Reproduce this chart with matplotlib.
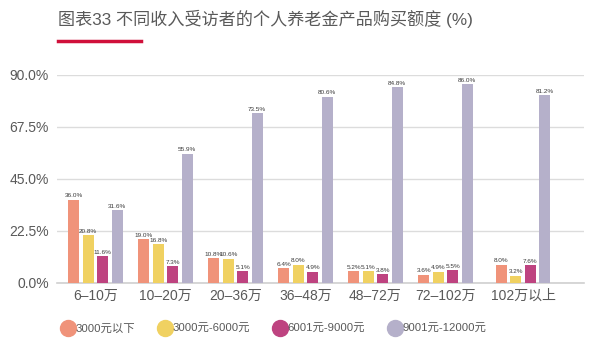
import numpy as np
import matplotlib.pyplot as plt
from matplotlib.lines import Line2D

plt.rcParams['font.family'] = ['Liberation Sans', 'Noto Sans CJK SC', 'DejaVu Sans']

# data
groups = ['6–10万', '10–20万', '20–36万', '36–48万', '48–72万', '72–102万', '102万以上']
series = ['3000元以下', '3000元-6000元', '6001元-9000元', '9001元-12000元']
below_3000 = [36.0, 19.0, 10.8, 6.4, 5.2, 3.6, 8.0]
from_3000 = [20.8, 16.8, 10.6, 8.0, 5.1, 4.9, 3.2]
from_6001 = [11.6, 7.3, 5.1, 4.9, 3.8, 5.5, 7.6]
from_9001 = [31.6, 55.9, 73.5, 80.6, 84.8, 86.0, 81.2]
yticks = [0, 22.5, 45, 67.5, 90]

colors = ['#F0937A', '#F0D161', '#BE4380', '#B5B0CA']
values = [below_3000, from_3000, from_6001, from_9001]
text_col = '#595959'

fig = plt.figure(figsize=(5.99, 3.59), dpi=100)
ax = fig.add_axes([57 / 599, 1 - 283 / 359, (584 - 57) / 599, 208 / 359])

x = np.arange(len(groups), dtype=float)
x[-1] += 0.11  # last group sits a little further right in the original
pitch = 0.207
width = 0.157
for i, (vals, c) in enumerate(zip(values, colors)):
    pos = x + (i - 1.5) * pitch
    bars = ax.bar(pos, vals, width=width, color=c, zorder=3)
    for b, v in zip(bars, vals):
        ax.text(b.get_x() + b.get_width() / 2, v + 0.6, f'{v:.1f}%',
                ha='center', va='bottom', fontsize=4.6, color='#3a3a3a',
                zorder=4)

ax.set_xlim(-0.55, 6.98)
ax.set_ylim(0, 90)
ax.set_yticks(yticks)
ax.set_yticklabels([f'{t:.1f}%' for t in yticks], fontsize=10, color=text_col)
ax.set_xticks(x)
ax.set_xticklabels(groups, fontsize=10, color=text_col)
ax.tick_params(axis='both', length=0)
ax.tick_params(axis='y', pad=6)
ax.tick_params(axis='x', pad=4)
ax.grid(axis='y', color='#dcdcdc', linewidth=1, zorder=0)
for s in ['top', 'right', 'left']:
    ax.spines[s].set_visible(False)
ax.spines['bottom'].set_color('#d0d0d0')
ax.spines['bottom'].set_linewidth(1.2)

# title and red underline
fig.text(58 / 599, 1 - 19 / 359, '图表33 不同收入受访者的个人养老金产品购买额度 (%)',
         fontsize=12.3, color=text_col, va='center', ha='left')
fig.add_artist(Line2D([58 / 599, 141 / 599], [1 - 41 / 359, 1 - 41 / 359],
                      color='#D0103A', linewidth=2.5))

handles = [Line2D([], [], marker='o', linestyle='', markersize=11.5, color=c)
           for c in colors]
fig.legend(handles, series, loc='center left', ncol=4, frameon=False,
           bbox_to_anchor=(55 / 599, 1 - 329 / 359), borderpad=0,
           fontsize=8.2, labelcolor=text_col, handletextpad=0.1,
           columnspacing=2.0, handlelength=1.2)

fig.savefig('out.png', dpi=100)
